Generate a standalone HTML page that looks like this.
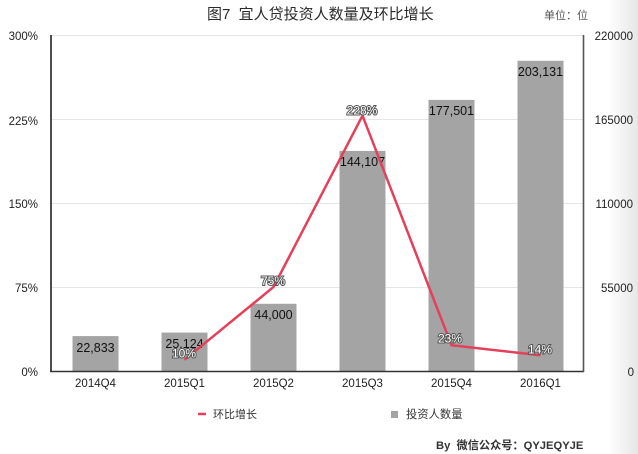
<!DOCTYPE html>
<html><head><meta charset="utf-8"><style>
html,body{margin:0;padding:0;background:#fff;}
svg{display:block;}
text{font-family:"Liberation Sans","Noto Sans CJK SC",sans-serif;}
</style></head><body>
<svg width="638" height="454" viewBox="0 0 638 454" xmlns="http://www.w3.org/2000/svg">
<defs>
<linearGradient id="g" x1="0" x2="1" y1="0" y2="0">
<stop offset="0" stop-color="#ffffff"/>
<stop offset="1" stop-color="#e6e6e6"/>
</linearGradient>
</defs>
<rect x="0" y="0" width="638" height="454" fill="#fff"/>
<rect x="608" y="0" width="30" height="454" fill="url(#g)"/>

<text x="207" y="19" font-size="15" fill="#2a2a2a" xml:space="preserve">图7  宜人贷投资人数量及环比增长</text>
<text x="566" y="19" font-size="11" fill="#555" text-anchor="middle">单位：位</text>

<!-- gridlines -->
<g stroke="#e6e6e6" stroke-width="1">
<line x1="51" y1="35.5" x2="584" y2="35.5"/>
<line x1="51" y1="119.5" x2="584" y2="119.5"/>
<line x1="51" y1="203.5" x2="584" y2="203.5"/>
<line x1="51" y1="287.5" x2="584" y2="287.5"/>
</g>

<!-- bars -->
<g fill="#a4a4a4">
<rect x="72.5" y="336.1" width="46" height="34.9"/>
<rect x="161.5" y="332.6" width="46" height="38.4"/>
<rect x="250.5" y="303.8" width="46" height="67.2"/>
<rect x="339.5" y="150.9" width="46" height="220.1"/>
<rect x="428.5" y="99.9" width="46" height="271.1"/>
<rect x="517.5" y="60.8" width="46" height="310.2"/>
</g>

<!-- axes -->
<line x1="51" y1="35" x2="51" y2="372" stroke="#222" stroke-width="1.6"/>
<line x1="50" y1="371.5" x2="584" y2="371.5" stroke="#333" stroke-width="1.6"/>
<line x1="583.5" y1="35" x2="583.5" y2="372" stroke="#555" stroke-width="1.6"/>

<!-- bar labels -->
<g font-size="12.5" fill="#111" text-anchor="middle">
<text x="95.5" y="352">22,833</text>
<text x="184.5" y="348">25,124</text>
<text x="273.5" y="319">44,000</text>
<text x="362.5" y="166">144,107</text>
<text x="451.5" y="115">177,501</text>
<text x="540.5" y="76">203,131</text>
</g>

<!-- line -->
<polyline points="184.5,359.8 273.5,287 362.5,115.6 451.5,345.2 540.5,355.3" fill="none" stroke="#e5405a" stroke-width="2.5" stroke-linejoin="miter"/>

<!-- line labels -->
<g font-size="12" fill="#fff" stroke="#555" stroke-width="2" paint-order="stroke" text-anchor="middle">
<text x="184" y="357.5">10%</text>
<text x="273" y="285">75%</text>
<text x="362" y="114.5">228%</text>
<text x="450" y="342.5">23%</text>
<text x="540" y="353.5">14%</text>
</g>

<!-- left axis labels -->
<g font-size="11.5" fill="#222" text-anchor="end">
<text x="38" y="40">300%</text>
<text x="38" y="125">225%</text>
<text x="38" y="208">150%</text>
<text x="38" y="292">75%</text>
<text x="38" y="376">0%</text>
</g>

<!-- right axis labels -->
<g font-size="11.5" fill="#222" text-anchor="end">
<text x="633" y="40">220000</text>
<text x="633" y="124">165000</text>
<text x="633" y="208">110000</text>
<text x="633" y="292">55000</text>
<text x="634" y="376">0</text>
</g>

<!-- x labels -->
<g font-size="11.5" fill="#222" text-anchor="middle">
<text x="95.5" y="387">2014Q4</text>
<text x="184.5" y="387">2015Q1</text>
<text x="273.5" y="387">2015Q2</text>
<text x="362.5" y="387">2015Q3</text>
<text x="451.5" y="387">2015Q4</text>
<text x="540.5" y="387">2016Q1</text>
</g>

<!-- legend -->
<line x1="198" y1="414" x2="206" y2="414" stroke="#e5405a" stroke-width="2.5"/>
<text x="213" y="418" font-size="11" fill="#333">环比增长</text>
<rect x="391" y="411" width="7" height="7" fill="#a4a4a4"/>
<text x="406" y="418" font-size="11.3" fill="#333">投资人数量</text>

<text x="436" y="449" font-size="11.2" font-weight="bold" fill="#333" xml:space="preserve">By  微信公众号：QYJEQYJE</text>
</svg>
</body></html>
